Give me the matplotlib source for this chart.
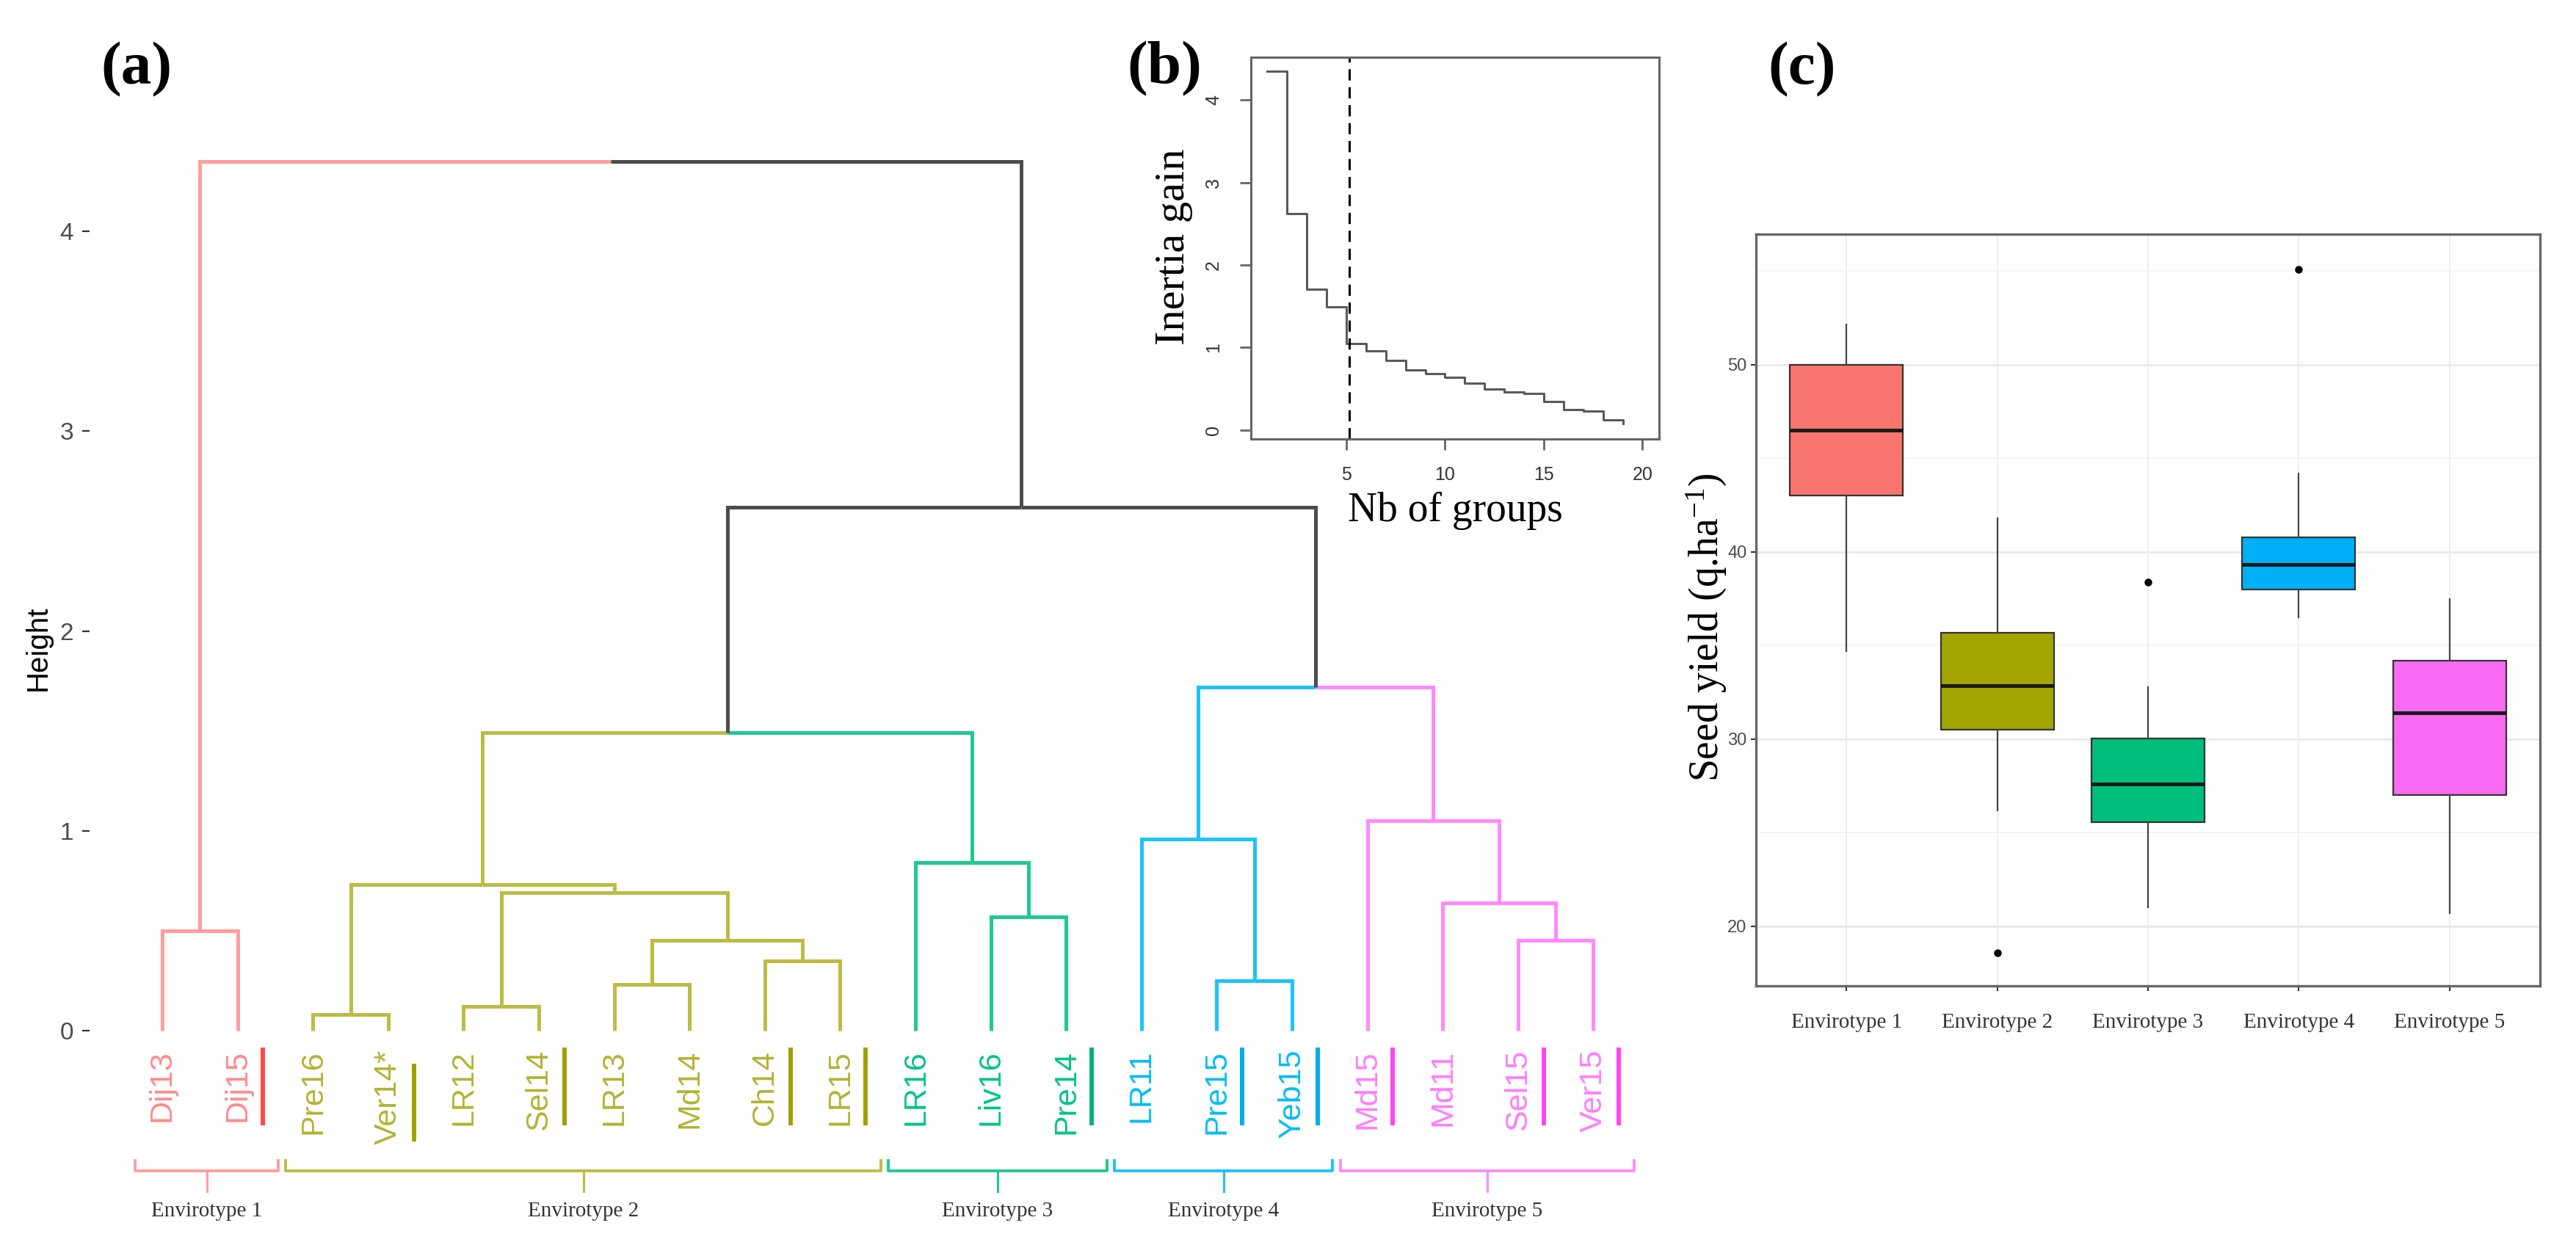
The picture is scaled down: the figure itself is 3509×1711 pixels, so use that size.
import matplotlib
matplotlib.use("Agg")
import matplotlib.pyplot as plt

plt.rcParams['mathtext.fontset'] = 'custom'
plt.rcParams['mathtext.rm'] = 'Liberation Serif'
plt.rcParams['mathtext.it'] = 'Liberation Serif:italic'

# ---------------- data ----------------
leaf_labels = ['Dij13', 'Dij15', 'Pre16', 'Ver14*', 'LR12', 'Sel14', 'LR13', 'Md14', 'Ch14', 'LR15',
               'LR16', 'Liv16', 'Pre14', 'LR11', 'Pre15', 'Yeb15', 'Md15', 'Md11', 'Sel15', 'Ver15']
leaf_group = [1, 1, 2, 2, 2, 2, 2, 2, 2, 2, 3, 3, 3, 4, 4, 4, 5, 5, 5, 5]
underlined = ['Dij15', 'Ver14*', 'Sel14', 'Ch14', 'LR15', 'Pre14', 'Pre15', 'Yeb15', 'Md15', 'Sel15', 'Ver15']

# merges (ids < 20 are leaves, id 20+k is the node created by merge k)
merge_left = [2, 4, 6, 14, 8, 22, 18, 0, 11, 17, 21, 20, 10, 13, 16, 31, 33, 35, 27]
merge_right = [3, 5, 7, 15, 9, 24, 19, 1, 12, 26, 25, 30, 28, 23, 29, 32, 34, 36, 37]
merge_height = [0.08, 0.12, 0.23, 0.25, 0.35, 0.45, 0.45, 0.50, 0.57, 0.64, 0.69, 0.73, 0.84,
                0.96, 1.05, 1.49, 1.72, 2.62, 4.35]

envirotypes = ['Envirotype 1', 'Envirotype 2', 'Envirotype 3', 'Envirotype 4', 'Envirotype 5']

n_groups = list(range(1, 20))
inertia_gain = [4.35, 2.62, 1.71, 1.49, 1.05, 0.96, 0.84, 0.73, 0.68, 0.64, 0.57, 0.50, 0.46,
                0.44, 0.35, 0.25, 0.23, 0.12, 0.08]
chosen_groups = 5.15

yield_q1 = [43.0, 30.5, 25.55, 38.0, 27.0]
yield_med = [46.5, 32.85, 27.6, 39.35, 31.4]
yield_q3 = [50.0, 35.7, 30.05, 40.8, 34.2]
yield_wlo = [34.7, 26.2, 21.0, 36.5, 20.7]
yield_whi = [52.15, 41.8, 32.8, 44.2, 37.5]
yield_out = [[], [18.6], [38.4], [55.1], []]

# ---------------- styles ----------------
line_cols = {1: '#FF9E9E', 2: '#BCBC45', 3: '#1ECA90', 4: '#1EC3F8', 5: '#FF8AFF'}
label_cols = {1: '#FF8A8A', 2: '#B3B333', 3: '#00C487', 4: '#00BDF4', 5: '#FF7CFF'}
bar_cols = {1: '#FF4848', 2: '#A0A000', 3: '#00B377', 4: '#00AEEF', 5: '#FF45F5'}
dark = '#4D4D4D'
box_cols = ['#F8766D', '#A3A500', '#00BF7D', '#00B0F6', '#F96BF3']
SANS = 'Liberation Sans'
SERIF = 'Liberation Serif'

W, H = 3509, 1711
def fx(px):
    return px / W
def fy(py):
    return 1 - py / H

fig = plt.figure(figsize=(W / 100, H / 100), dpi=100)

# ================= (a) dendrogram =================
A_L, A_R, A_T, A_B = 122, 2300, 150, 1700
leaf0_px, leaf_step_px = 221, 102.6
h0_px, h_unit_px = 1404, 272.25
ax_a = fig.add_axes([fx(A_L), fy(A_B), (A_R - A_L) / W, (A_B - A_T) / H])
ax_a.set_xlim((A_L - leaf0_px) / leaf_step_px, (A_R - leaf0_px) / leaf_step_px)
ax_a.set_ylim((h0_px - A_B) / h_unit_px, (h0_px - A_T) / h_unit_px)
ax_a.patch.set_visible(False)
for s in ax_a.spines.values():
    s.set_visible(False)
ax_a.set_xticks([])
ax_a.set_yticks([0, 1, 2, 3, 4])
ax_a.tick_params(axis='y', direction='out', length=7.2, width=1.6, color='#333333',
                 labelsize=24, labelcolor='#4D4D4D', pad=8.5)
for t in ax_a.get_yticklabels():
    t.set_fontfamily(SANS)

n = len(leaf_labels)
xpos = {i: float(i) for i in range(n)}
hts = {i: 0.0 for i in range(n)}
grps = {i: {leaf_group[i]} for i in range(n)}
for k, (l, r, h) in enumerate(zip(merge_left, merge_right, merge_height)):
    node = n + k
    xpos[node] = (xpos[l] + xpos[r]) / 2
    hts[node] = h
    grps[node] = grps[l] | grps[r]

def node_color(nd):
    g = grps[nd]
    return line_cols[next(iter(g))] if len(g) == 1 else dark

for k, (l, r, h) in enumerate(zip(merge_left, merge_right, merge_height)):
    node = n + k
    for ch in (l, r):
        ax_a.plot([xpos[ch], xpos[ch], xpos[node]], [hts[ch], h, h], color=node_color(ch),
                  lw=3.6, solid_joinstyle='miter', solid_capstyle='butt', zorder=2)

# leaf labels and underline bars
lab_top = (h0_px - 1430) / h_unit_px
for i, lab in enumerate(leaf_labels):
    g = leaf_group[i]
    ax_a.text(i, lab_top, lab, rotation=90, ha='center', va='top', fontsize=31,
              family=SANS, color=label_cols[g])
    if lab in underlined:
        shift = 22 if lab.endswith('*') else 0
        y0 = (h0_px - (1427 + shift)) / h_unit_px
        y1 = (h0_px - (1533 + shift)) / h_unit_px
        ax_a.plot([i + 0.34, i + 0.34], [y0, y1], color=bar_cols[g], lw=4.3,
                  solid_capstyle='butt')

# brackets with envirotype names
yb_h = (h0_px - 1595) / h_unit_px
yb_e = (h0_px - 1581) / h_unit_px
yb_t = (h0_px - 1623) / h_unit_px
yb_lab = (h0_px - 1650) / h_unit_px
for gi, name in enumerate(envirotypes, start=1):
    idx = [i for i, g in enumerate(leaf_group) if g == gi]
    a, b = idx[0] - 0.36, idx[-1] + 0.54
    c = (a + b) / 2
    ax_a.plot([a, a, b, b], [yb_e, yb_h, yb_h, yb_e], color=line_cols[gi], lw=2.8,
              solid_joinstyle='round')
    ax_a.plot([c, c], [yb_h, yb_t], color=line_cols[gi], lw=2.2)
    ax_a.text(c, yb_lab, name, ha='center', va='center', fontsize=21, family=SERIF,
              color='#333333')

fig.text(fx(52), fy(883), 'Height', rotation=90, ha='center', va='center', fontsize=29,
         family=SANS, color='black')
fig.text(fx(186), fy(95), '(a)', ha='center', va='center', fontsize=60, family=SERIF,
         fontweight='bold')

# ================= (b) inertia gain =================
B_L, B_R, B_T, B_B = 1704, 2260, 78, 598
ax_b = fig.add_axes([fx(B_L), fy(B_B), (B_R - B_L) / W, (B_B - B_T) / H])
ax_b.step(n_groups, inertia_gain, where='post', color='#5A5A5A', lw=2.2)
ax_b.axvline(chosen_groups, color='black', lw=2.2, ls=(0, (5, 3)))
ax_b.set_xlim(0.17, 20.84)
ax_b.set_ylim(-0.107, 4.516)
ax_b.set_xticks([5, 10, 15, 20])
ax_b.set_yticks([0, 1, 2, 3, 4])
for s in ax_b.spines.values():
    s.set_color('#666666')
    s.set_linewidth(2.2)
ax_b.tick_params(direction='out', length=11, width=2, color='#666666', labelsize=18,
                 labelcolor='#333333')
ax_b.tick_params(axis='y', pad=17)
ax_b.tick_params(axis='x', pad=16)
for t in ax_b.get_yticklabels():
    t.set_rotation(90)
    t.set_va('center')
    t.set_fontfamily(SANS)
for t in ax_b.get_xticklabels():
    t.set_fontfamily(SANS)
fig.text(fx(1599), fy(336), 'Inertia gain', rotation=90, ha='center', va='center',
         fontsize=42, family=SERIF)
fig.text(fx(1982), fy(710), 'Nb of groups', ha='center', va='baseline', fontsize=40,
         family=SERIF)
fig.text(fx(1586), fy(94), '(b)', ha='center', va='center', fontsize=60, family=SERIF,
         fontweight='bold')

# ================= (c) boxplot =================
C_L, C_R, C_T, C_B = 2392, 3460, 319, 1343
ax_c = fig.add_axes([fx(C_L), fy(C_B), (C_R - C_L) / W, (C_B - C_T) / H])
stats = []
for i in range(len(envirotypes)):
    stats.append(dict(label=envirotypes[i], q1=yield_q1[i], med=yield_med[i], q3=yield_q3[i],
                      whislo=yield_wlo[i], whishi=yield_whi[i], fliers=yield_out[i]))
bp = ax_c.bxp(stats, positions=range(1, len(envirotypes) + 1), widths=0.75, patch_artist=True,
              showcaps=False,
              boxprops=dict(edgecolor='#333333', linewidth=1.6),
              medianprops=dict(color='#1A1A1A', linewidth=3.6, solid_capstyle='butt'),
              whiskerprops=dict(color='#444444', linewidth=1.6),
              flierprops=dict(marker='o', markerfacecolor='black', markeredgecolor='black',
                              markersize=6.5))
for patch, col in zip(bp['boxes'], box_cols):
    patch.set_facecolor(col)
ax_c.set_xlim(0.4, 5.6)
ax_c.set_ylim(16.82, 56.98)
ax_c.set_yticks([20, 30, 40, 50])
ax_c.set_yticks([25, 35, 45, 55], minor=True)
ax_c.set_axisbelow(True)
ax_c.grid(which='major', axis='y', color='#EBEBEB', lw=2.2)
ax_c.grid(which='minor', axis='y', color='#F3F3F3', lw=1.3)
ax_c.grid(which='major', axis='x', color='#EEEEEE', lw=1.4)
for s in ax_c.spines.values():
    s.set_color('#666666')
    s.set_linewidth(2.4)
ax_c.tick_params(which='minor', length=0)
ax_c.tick_params(axis='y', direction='out', length=5, width=1.5, color='#333333',
                 labelsize=17, labelcolor='#4D4D4D', pad=4)
ax_c.tick_params(axis='x', direction='out', length=5, width=1.5, color='#333333',
                 labelsize=21, labelcolor='#333333', pad=22)
for t in ax_c.get_yticklabels():
    t.set_fontfamily(SANS)
for t in ax_c.get_xticklabels():
    t.set_fontfamily(SERIF)
fig.text(fx(2325), fy(855), r'Seed yield (q.ha$^{-1}$)', rotation=90, ha='center',
         va='center', fontsize=40, family=SERIF)
fig.text(fx(2455), fy(95), '(c)', ha='center', va='center', fontsize=60, family=SERIF,
         fontweight='bold')

fig.savefig('out.png', dpi=100, facecolor='white')
